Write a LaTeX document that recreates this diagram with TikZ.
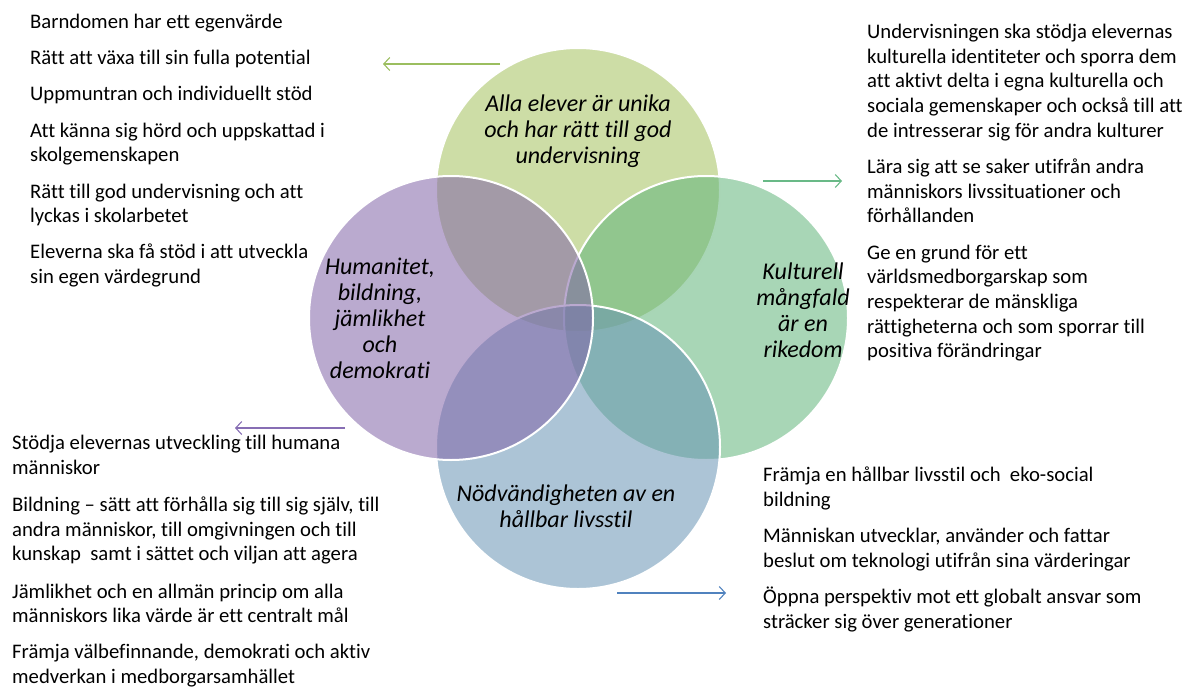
\documentclass[tikz,border=0pt]{standalone}
\usepackage{fontspec}
\setmainfont{Carlito}[Ligatures=NoCommon]
\usetikzlibrary{arrows.meta}

\definecolor{gulgron}{RGB}{164,193,93}
\definecolor{lila}{RGB}{130,100,168}
\definecolor{gron}{RGB}{97,180,122}
\definecolor{bla}{RGB}{104,148,180}
\definecolor{pilgulgron}{RGB}{155,190,95}
\definecolor{pilgron}{RGB}{105,185,135}
\definecolor{pillila}{RGB}{135,110,180}
\definecolor{pilbla}{RGB}{80,130,190}

\begin{document}
\begin{tikzpicture}[x=1pt, y=-1pt,
  every node/.style={font=\fontsize{20.7}{24.7}\selectfont},
  cirkel/.style={circle, draw=white, line width=2pt, fill opacity=0.55,
    minimum size=2*\rad pt, inner sep=0pt},
  etikett/.style={align=center, inner sep=0pt,
    font=\fontsize{24}{26}\selectfont\itshape},
  punkter/.style={anchor=north west, align=left, inner sep=0pt},
  pil/.style={->, line width=1.1pt},
  >={Straight Barb[length=6pt,width=13pt]}]

  \useasboundingbox (0,0) rectangle (1189,688);

  \def\rad{142}
  \def\gap{11.5pt}

  % the four circles, drawn in this order
  \node[cirkel, fill=gulgron] (unika) at (578,190) {};
  \node[cirkel, fill=gron]    (kultur) at (706,318) {};
  \node[cirkel, fill=bla]     (hallbar) at (578,447) {};
  \node[cirkel, fill=lila]    (human) at (451,318) {};

  \node[etikett] (tunika) at (578,131) {Alla elever är unika\\och har rätt till god\\undervisning};
  \node[etikett] (thuman) at (380,318) {Humanitet,\\bildning,\\jämlikhet\\och\\demokrati};
  \node[etikett] (tkultur) at (803,310) {Kulturell\\mångfald\\är en\\rikedom};
  \node[etikett] (thallbar) at (566,506) {Nödvändigheten av en\\hållbar livsstil};

  % text blocks
  \node[punkter] (lista1) at (30,14) {Barndomen har ett egenvärde\\[\gap]
    Rätt att växa till sin fulla potential\\[\gap]
    Uppmuntran och individuellt stöd\\[\gap]
    Att känna sig hörd och uppskattad i\\skolgemenskapen\\[\gap]
    Rätt till god undervisning och att\\lyckas i skolarbetet\\[\gap]
    Eleverna ska få stöd i att utveckla\\sin egen värdegrund};

  \node[punkter] (lista2) at (867,24) {Undervisningen ska stödja elevernas\\kulturella identiteter och sporra dem\\att aktivt delta i egna kulturella och\\sociala gemenskaper och också till att\\de intresserar sig för andra kulturer\\[\gap]
    Lära sig att se saker utifrån andra\\människors livssituationer och\\förhållanden\\[\gap]
    Ge en grund för ett\\världsmedborgarskap som\\respekterar de mänskliga\\rättigheterna och som sporrar till\\positiva förändringar};

  \node[punkter] (lista3) at (12,435) {Stödja elevernas utveckling till humana\\människor\\[12.5pt]
    Bildning – sätt att förhålla sig till sig själv, till\\andra människor, till omgivningen och till\\kunskap\ \ samt i sättet och viljan att agera\\[12.5pt]
    Jämlikhet och en allmän princip om alla\\människors lika värde är ett centralt mål\\[\gap]
    Främja välbefinnande, demokrati och aktiv\\medverkan i medborgarsamhället};

  \node[punkter] (lista4) at (763,467) {Främja en hållbar livsstil och\ \ eko-social\\bildning\\[\gap]
    Människan utvecklar, använder och fattar\\beslut om teknologi utifrån sina värderingar\\[\gap]
    Öppna perspektiv mot ett globalt ansvar som\\sträcker sig över generationer};

  % arrows
  \coordinate (p1a) at (500,64);  \coordinate (p1b) at (383,64);
  \coordinate (p2a) at (763,181); \coordinate (p2b) at (842,181);
  \coordinate (p3a) at (345,428); \coordinate (p3b) at (235,428);
  \coordinate (p4a) at (617,593); \coordinate (p4b) at (726,593);
  \draw[pil, pilgulgron] (p1a) -- (p1b);
  \draw[pil, pilgron] (p2a) -- (p2b);
  \draw[pil, pillila] (p3a) -- (p3b);
  \draw[pil, pilbla] (p4a) -- (p4b);

\end{tikzpicture}
\end{document}
